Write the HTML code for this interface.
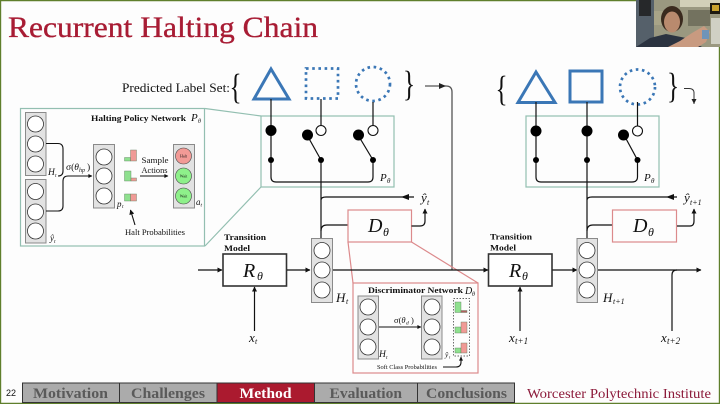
<!DOCTYPE html>
<html><head><meta charset="utf-8"><title>Recurrent Halting Chain</title>
<style>
html,body{margin:0;padding:0;background:#fdfdfd;width:720px;height:404px;overflow:hidden}
svg{display:block;filter:blur(.3px)}
text{font-family:"Liberation Serif",serif;fill:#111}
.i{font-style:italic}
.b{font-weight:bold}
.l{fill:none;stroke:#111;stroke-width:1.2}
.m{fill:none;stroke:#111;stroke-width:1.1}
.big{fill:#000}
.blk{fill:#e2e2e2;stroke:#8a8a8a;stroke-width:1}
.c{fill:#fff;stroke:#333;stroke-width:.8}
.t{fill:none;stroke:#93bfb1;stroke-width:1.2}
.p{fill:none;stroke:#dc8a8c;stroke-width:1.2}
.bl{fill:none;stroke:#3b77b6;stroke-width:3}
.d{fill:none;stroke:#3b77b6;stroke-width:2.7;stroke-dasharray:2.6 3.6}
.nav{font-weight:bold;font-size:15px;fill:#5a5a5a}
</style></head><body>
<svg width="720" height="404" viewBox="0 0 720 404" xmlns="http://www.w3.org/2000/svg">
<defs>
<marker id="a" viewBox="0 0 10 10" refX="9" refY="5" markerWidth="6" markerHeight="5" orient="auto" markerUnits="userSpaceOnUse"><path d="M0 0L10 5L0 10Z" fill="#111"/></marker>
<marker id="s" viewBox="0 0 10 10" refX="9" refY="5" markerWidth="5" markerHeight="4" orient="auto" markerUnits="userSpaceOnUse"><path d="M0 0L10 5L0 10Z" fill="#111"/></marker>
</defs>
<rect width="720" height="404" fill="#fdfdfd"/>
<!-- frame -->
<path d="M.5 .5H719.5V403.5H.5Z" fill="none" stroke="#5f7f2c" stroke-width="1.4"/>
<!-- title -->
<text x="8" y="37" font-size="30" textLength="310" lengthAdjust="spacingAndGlyphs" style="fill:#a81c34;stroke:#a81c34;stroke-width:.35">Recurrent Halting Chain</text>
<text x="122" y="92" font-size="13" textLength="108" lengthAdjust="spacingAndGlyphs">Predicted Label Set:</text>
<text transform="translate(229.500,98.300) scale(.7,1)" font-size="36">{</text>
<text transform="translate(403,95.300) scale(.7,1)" font-size="36">}</text>
<text transform="translate(495.500,100.300) scale(.7,1)" font-size="36">{</text>
<text transform="translate(667,97.300) scale(.7,1)" font-size="36">}</text>

<!-- label shapes left -->
<path class="bl" d="M271 69L289 99H254Z"/>
<rect class="d" x="306" y="68.500" width="32" height="30"/>
<circle class="d" cx="373" cy="84" r="17"/>
<!-- label shapes right -->
<path class="bl" d="M536 72L555 102.500H518Z"/>
<rect x="570" y="71" width="32" height="31" fill="none" stroke="#3b77b6" stroke-width="3"/>
<circle class="d" cx="637.500" cy="87" r="17.500"/>

<!-- grey arrow -->
<path d="M425 86H446Q452 86 452 92V270" fill="none" stroke="#555" stroke-width="1.300" />
<path d="M439 83L446 86L439 89Z" fill="#222"/>
<path d="M684 88.500H689Q694 88.500 694 93V104" fill="none" stroke="#333" stroke-width="1"/>
<path d="M691.500 99L694 104L696.500 99Z" fill="#222"/>

<!-- inset policy teal -->
<rect class="t" x="20.500" y="108.500" width="184" height="137.500"/>
<path class="t" d="M205 108.500L261 116M205 246L261 187"/>
<rect class="t" x="261" y="116" width="133" height="71"/>
<rect class="t" x="526" y="116" width="133" height="71"/>

<!-- switch left -->
<path class="l" d="M271 99V177Q271 182 276 182H368Q373 182 373 177V160L358 135M307 135L321 160V240M321 99V126M373 102V126"/>
<circle class="big" cx="271" cy="130.500" r="5.500"/><circle class="big" cx="307.500" cy="135" r="5.500"/><circle class="big" cx="358.500" cy="135" r="5.500"/>
<circle class="big" cx="271" cy="160" r="3"/><circle class="big" cx="321" cy="160" r="3"/><circle class="big" cx="373" cy="160" r="3"/>
<circle cx="321" cy="130.500" r="5" fill="#fff" stroke="#111" stroke-width="1.100"/>
<circle cx="373" cy="130.500" r="5" fill="#fff" stroke="#111" stroke-width="1.100"/>
<text class="i" x="380" y="181" font-size="11">P</text><text class="i" x="387" y="183" font-size="7">θ</text>

<!-- switch right -->
<path class="l" d="M536 102V177Q536 182 541 182H632Q637.500 182 637.500 177V160L624 135M587 102V240M637.500 102V126"/>
<circle class="big" cx="536" cy="131" r="5.500"/><circle class="big" cx="587" cy="131" r="5.500"/><circle class="big" cx="623.500" cy="135" r="5.500"/>
<circle class="big" cx="536" cy="160" r="3"/><circle class="big" cx="587" cy="160" r="3"/><circle class="big" cx="637.500" cy="160" r="3"/>
<circle cx="637.500" cy="131" r="5" fill="#fff" stroke="#111" stroke-width="1.100"/>
<text class="i" x="644" y="181" font-size="11">P</text><text class="i" x="651" y="183" font-size="7">θ</text>

<!-- yhat outputs -->
<path class="l" d="M321 200Q321 197 326 197H414" />
<path d="M409 194L401 197L409 200Z" fill="#111"/>
<text class="i" x="421" y="202" font-size="13">ŷ</text><text class="i" x="427" y="205" font-size="8">t</text>
<path class="l" d="M587 200Q587 197 592 197H677"/>
<path d="M674 194L666 197L674 200Z" fill="#111"/>
<text class="i" x="684" y="202" font-size="13">ŷ</text><text class="i" x="690" y="205" font-size="8">t+1</text>

<!-- D boxes -->
<path class="l" d="M321 231Q321 225 327 225H348M587 231Q587 225 593 225H612"/>
<rect class="p" x="348" y="210" width="63.500" height="32"/>
<rect class="p" x="612.500" y="210" width="64" height="32"/>
<text class="i" x="368" y="232" font-size="20">D</text><text class="i" x="383" y="236" font-size="12">θ</text>
<text class="i" x="633" y="232" font-size="20">D</text><text class="i" x="648" y="236" font-size="12">θ</text>
<path class="l" d="M411.500 226H420Q425 226 425 221V209" marker-end="url(#a)"/>
<path class="l" d="M677 226H690Q694 226 694 221V209" marker-end="url(#a)"/>

<!-- pink inset -->
<path class="p" d="M348 242L353 283M411.500 242L478 283"/>
<rect class="p" x="353" y="283" width="125" height="90"/>

<!-- transition -->
<text class="b" x="224" y="240" font-size="8.500" textLength="42" lengthAdjust="spacingAndGlyphs">Transition</text>
<text class="b" x="224" y="251" font-size="8.500" textLength="26" lengthAdjust="spacingAndGlyphs">Model</text>
<text class="b" x="490" y="239.500" font-size="8.500" textLength="42" lengthAdjust="spacingAndGlyphs">Transition</text>
<text class="b" x="490" y="250.500" font-size="8.500" textLength="26" lengthAdjust="spacingAndGlyphs">Model</text>
<rect x="223" y="254" width="63.500" height="32" fill="#fff" stroke="#333" stroke-width="1.600"/>
<rect x="488.500" y="254" width="63.500" height="32" fill="#fff" stroke="#333" stroke-width="1.600"/>
<text class="i" x="243" y="277" font-size="20">R</text><text class="i" x="257" y="280" font-size="12">θ</text>
<text class="i" x="509" y="277" font-size="20">R</text><text class="i" x="522" y="280" font-size="12">θ</text>

<path class="l" d="M198 270H222" marker-end="url(#a)"/>
<path class="l" d="M287 270H310" marker-end="url(#a)"/>
<path class="l" d="M333 270H488" marker-end="url(#a)"/>
<path class="l" d="M552.500 270H577" marker-end="url(#a)"/>
<path class="l" d="M597 270H701" marker-end="url(#a)"/>
<path class="l" d="M672 331V275Q672 270 677 270"/>
<path class="l" d="M254.500 331V287" marker-end="url(#a)"/>
<path class="l" d="M520 331V287" marker-end="url(#a)"/>

<!-- H blocks -->
<rect class="blk" x="311.500" y="238.500" width="21" height="64"/>
<circle class="c" cx="322" cy="250.500" r="8"/><circle class="c" cx="322" cy="270" r="8"/><circle class="c" cx="322" cy="290" r="8"/>
<rect class="blk" x="577" y="238.500" width="20.500" height="64"/>
<circle class="c" cx="587" cy="250.500" r="8"/><circle class="c" cx="587" cy="270" r="8"/><circle class="c" cx="587" cy="290" r="8"/>
<text class="i" x="336" y="302" font-size="13">H</text><text class="i" x="346" y="304" font-size="8">t</text>
<text class="i" x="603" y="302" font-size="13">H</text><text class="i" x="613" y="304" font-size="8">t+1</text>
<text class="i" x="249" y="342" font-size="13">x</text><text class="i" x="255" y="344" font-size="8">t</text>
<text class="i" x="509" y="342" font-size="13">x</text><text class="i" x="515" y="344" font-size="9">t+1</text>
<text class="i" x="661" y="342" font-size="13">x</text><text class="i" x="667" y="344" font-size="9">t+2</text>

<!-- policy inset content -->
<text class="b" x="91" y="121" font-size="8.500" textLength="95" lengthAdjust="spacingAndGlyphs">Halting Policy Network</text>
<text class="i" x="191" y="121" font-size="11">P</text><text class="i" x="198" y="123" font-size="6">θ</text>
<rect class="blk" x="25.500" y="112.500" width="20.500" height="63"/>
<circle class="c" cx="35.500" cy="124" r="8"/><circle class="c" cx="35.500" cy="144" r="8"/><circle class="c" cx="35.500" cy="164" r="8"/>
<rect class="blk" x="25.500" y="179.500" width="20.500" height="63.500"/>
<circle class="c" cx="35.500" cy="191.500" r="8"/><circle class="c" cx="35.500" cy="212" r="8"/><circle class="c" cx="35.500" cy="231" r="8"/>
<path class="m" d="M46 143.500H58Q63 143.500 63 149V171Q63 176 58 176"/>
<path class="m" d="M46 211H58Q63 211 63 206V181Q63 176 68 176H92" marker-end="url(#s)"/>
<text class="i" x="48" y="175" font-size="9.500">H</text><text class="i" x="55" y="177" font-size="5.500">t</text>
<text class="i" x="50" y="241" font-size="9">ŷ</text><text class="i" x="54" y="243" font-size="5.500">t</text>
<text x="66" y="170" font-size="9.500">σ(<tspan class="i">θ</tspan></text><text class="i" x="79" y="172" font-size="6">hp</text><text x="87" y="170" font-size="9.500">)</text>
<rect class="blk" x="93.500" y="144.500" width="21" height="63.500"/>
<circle class="c" cx="104" cy="157" r="8"/><circle class="c" cx="104" cy="176" r="8"/><circle class="c" cx="104" cy="196" r="8"/>
<text class="i" x="117" y="207" font-size="9">p</text><text class="i" x="122" y="208" font-size="5.500">t</text>
<g stroke="#5b7a5b" stroke-width=".4">
<rect x="124.500" y="157.500" width="6" height="3.500" fill="#8fe08f"/><rect x="130.500" y="150" width="6" height="11" fill="#f09a96"/>
<rect x="124.500" y="171" width="6.500" height="10" fill="#8fe08f"/><rect x="131" y="178" width="5.500" height="3" fill="#f09a96"/>
<rect x="124.500" y="194" width="6" height="7" fill="#8fe08f"/><rect x="130.500" y="194" width="6" height="7" fill="#f09a96"/>
</g>
<text x="141.500" y="163" font-size="8" textLength="27" lengthAdjust="spacingAndGlyphs">Sample</text>
<text x="141.500" y="173" font-size="8" textLength="26" lengthAdjust="spacingAndGlyphs">Actions</text>
<path class="m" d="M140 176H168" marker-end="url(#s)"/>
<rect class="blk" x="173.500" y="144.500" width="21" height="63.500"/>
<circle cx="183.500" cy="156" r="8" fill="#f29a96" stroke="#444" stroke-width=".6"/>
<circle cx="183.500" cy="176" r="8" fill="#8ef08a" stroke="#444" stroke-width=".6"/>
<circle cx="183.500" cy="196" r="8" fill="#8ef08a" stroke="#444" stroke-width=".6"/>
<text x="183.500" y="157.500" font-size="4" text-anchor="middle">Halt</text>
<text x="183.500" y="177.500" font-size="4" text-anchor="middle">Wait</text>
<text x="183.500" y="197.500" font-size="4" text-anchor="middle">Wait</text>
<text class="i" x="196" y="205" font-size="9">a</text><text class="i" x="200.500" y="206.500" font-size="5.500">t</text>
<path class="m" d="M135 225L130.500 210" marker-end="url(#a)"/>
<text x="125" y="235" font-size="8" textLength="60" lengthAdjust="spacingAndGlyphs">Halt Probabilities</text>

<!-- discriminator inset -->
<text class="b" x="368" y="293" font-size="8.500" textLength="95" lengthAdjust="spacingAndGlyphs">Discriminator Network</text>
<text class="i" x="465" y="294" font-size="10">D</text><text class="i" x="472" y="296" font-size="6">θ</text>
<rect class="blk" x="358" y="296" width="20.500" height="63"/>
<circle class="c" cx="368" cy="307" r="8"/><circle class="c" cx="368" cy="327" r="8"/><circle class="c" cx="368" cy="347" r="8"/>
<rect class="blk" x="421.500" y="296" width="20.500" height="63"/>
<circle class="c" cx="432" cy="307" r="8"/><circle class="c" cx="432" cy="327" r="8"/><circle class="c" cx="432" cy="347" r="8"/>
<path class="m" d="M379 327H421" marker-end="url(#s)"/>
<text x="394" y="323" font-size="8.500">σ(<tspan class="i">θ</tspan></text><text class="i" x="406" y="324.500" font-size="5.500">d</text><text x="411" y="323" font-size="8.500">)</text>
<text class="i" x="379" y="357" font-size="9.500">H</text><text class="i" x="386" y="359" font-size="5.500">t</text>
<text class="i" x="445" y="357" font-size="7.500">ŷ</text><text class="i" x="449" y="358.500" font-size="4.500">t</text>
<rect x="453.500" y="298.500" width="16" height="57.500" fill="none" stroke="#333" stroke-width=".7" stroke-dasharray="1.500 1.500"/>
<g stroke="#5b7a5b" stroke-width=".4">
<rect x="455" y="302" width="6" height="10.500" fill="#8fe08f"/><rect x="461" y="310.500" width="6" height="2" fill="#b06060"/>
<rect x="455" y="327" width="6" height="6" fill="#8fe08f"/><rect x="461" y="322" width="6" height="11" fill="#f09a96"/>
<rect x="455" y="348" width="6" height="5" fill="#8fe08f"/><rect x="461" y="343" width="6" height="10" fill="#f09a96"/>
</g>
<text x="377" y="369" font-size="6" textLength="60" lengthAdjust="spacingAndGlyphs">Soft Class Probabilities</text>
<path class="m" d="M443 367H456Q461 367 461 362V357" marker-end="url(#s)"/>

<!-- nav -->
<text x="6" y="396" font-size="9" style='font-family:"Liberation Sans",sans-serif'>22</text>
<rect x="22.500" y="383" width="492" height="19.500" fill="#ababab" stroke="#333" stroke-width="1"/>
<rect x="217" y="383.500" width="97.500" height="18.500" fill="#ab1a2f"/>
<path d="M119.500 383V402M217 383V402M314.500 383V402M417.500 383V402" stroke="#333" stroke-width="1"/>
<text class="nav" x="33" y="398" textLength="75" lengthAdjust="spacingAndGlyphs">Motivation</text>
<text class="nav" x="131" y="398" textLength="74" lengthAdjust="spacingAndGlyphs">Challenges</text>
<text class="nav" x="239.500" y="398" textLength="52" lengthAdjust="spacingAndGlyphs" style="fill:#fff">Method</text>
<text class="nav" x="329.500" y="398" textLength="72.500" lengthAdjust="spacingAndGlyphs">Evaluation</text>
<text class="nav" x="426" y="398" textLength="81" lengthAdjust="spacingAndGlyphs">Conclusions</text>
<text x="527" y="398" font-size="14" textLength="184" lengthAdjust="spacingAndGlyphs" style="fill:#8c1a3a">Worcester Polytechnic Institute</text>

<!-- webcam -->
<g>
<rect x="636" y="0" width="84" height="47" fill="#9a9880"/>
<rect x="636" y="0" width="18" height="47" fill="#55606a"/>
<rect x="639" y="0" width="12" height="16" fill="#26282a"/>
<rect x="654" y="11" width="14" height="14" fill="#a8a488"/>
<rect x="680" y="0" width="40" height="7" fill="#d2d0b8"/>
<rect x="688" y="10" width="22" height="16" fill="#73725f"/>
<rect x="710" y="3" width="10" height="11" fill="#1e1a10"/>
<rect x="712" y="5" width="7" height="6" fill="#c9a22e"/>
<rect x="711" y="18" width="9" height="26" fill="#d0d0c4"/>
<path d="M636 47L650 38L666 34L686 38L702 47Z" fill="#2b3340"/>
<ellipse cx="672" cy="19" rx="11" ry="13" fill="#3a2a1e"/>
<ellipse cx="672" cy="22" rx="8" ry="10.500" fill="#b98a6e"/>
<path d="M668 47L680 41L692 33L704 26L710 32L706 42L698 47Z" fill="#c89a80"/>
<rect x="702" y="30" width="7" height="9" fill="#6f94b8"/>
</g>
</svg>
</body></html>
